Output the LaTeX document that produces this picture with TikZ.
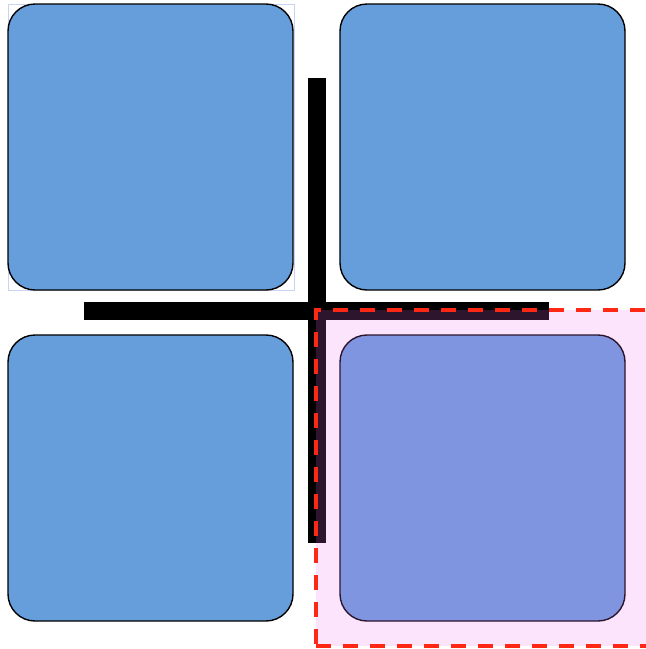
\documentclass[tikz,border=0pt]{standalone}
\begin{document}
\begin{tikzpicture}[x=1pt,y=-1pt,
  sq/.style={draw=black, line width=1.4pt, fill=sqblue, rounded corners=27pt,
    minimum width=285pt, minimum height=286pt, inner sep=0pt, outer sep=0pt},
  bar/.style={fill=black, draw=none, inner sep=0pt, outer sep=0pt},
  overlay/.style={fill=pinkov, fill opacity=0.19, draw=dashred, draw opacity=1,
    line width=3.3pt, dash pattern=on 15pt off 12pt, inner sep=0pt, outer sep=0pt},
  selbox/.style={draw=selblue, line width=0.8pt}]
\definecolor{sqblue}{RGB}{102,158,220}
\definecolor{pinkov}{RGB}{240,113,240}
\definecolor{dashred}{RGB}{255,40,20}
\definecolor{selblue}{RGB}{200,212,242}
\useasboundingbox (0,0) rectangle (646,649);
% selection frame around top-left square
\draw[selbox] (8,4) rectangle (294,290);
% squares
\node[sq] (tl) at (150.5,147) {};
\node[sq] (tr) at (482.5,147) {};
\node[sq] (bl) at (150.5,478) {};
\node[sq] (br) at (482.5,478) {};
% cross
\node[bar, minimum width=18pt, minimum height=465pt] (vbar) at (317,310.5) {};
\node[bar, minimum width=465pt, minimum height=18pt] (hbar) at (316.5,311) {};
% translucent overlay
\node[overlay, minimum width=334pt, minimum height=336pt] (ov) at (483,478) {};
\end{tikzpicture}
\end{document}
